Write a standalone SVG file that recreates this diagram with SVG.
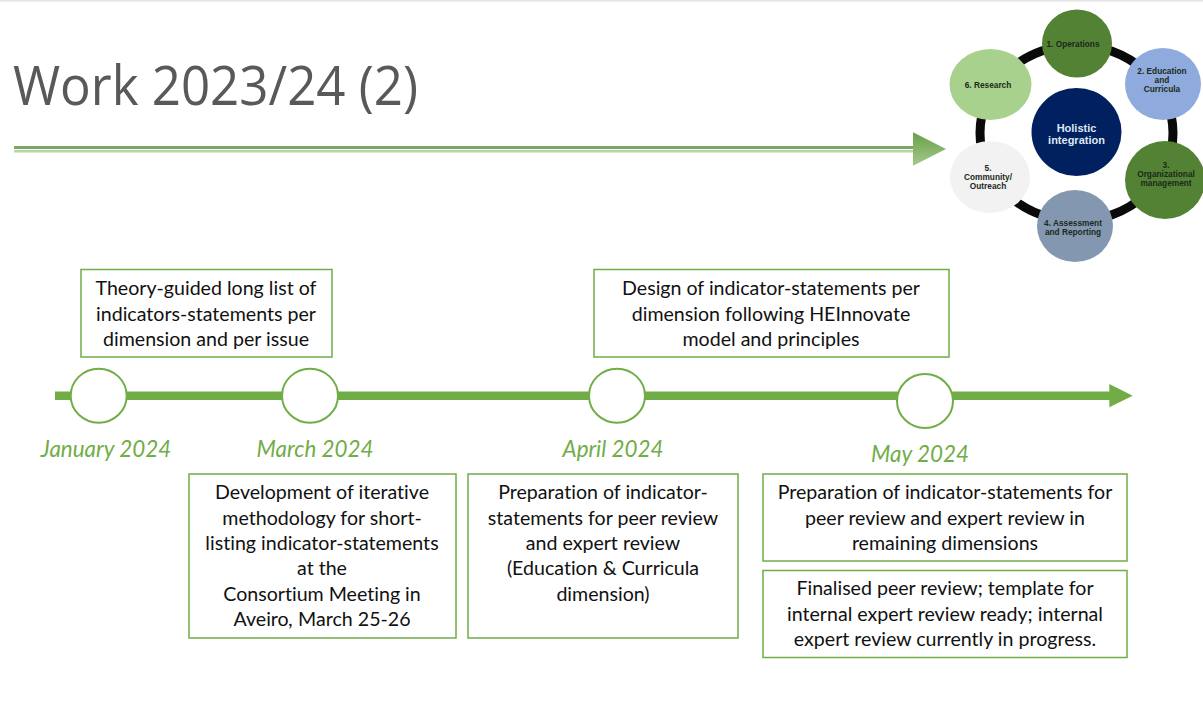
<svg xmlns="http://www.w3.org/2000/svg" width="1203" height="711" viewBox="0 0 1203 711">
<style>
text{font-family:"Lato","Open Sans","Liberation Sans",sans-serif;font-variant-ligatures:none}
.b{fill:#fff;stroke:#70ad47;stroke-width:1.5}
.t{font-size:19.6px;fill:#111;text-anchor:middle}
.m{font-size:22.4px;fill:#70ad47;font-style:italic;text-anchor:middle}
.c{fill:#fff;stroke:#70ad47;stroke-width:2}
.r{font-family:"Liberation Sans",sans-serif;font-weight:700;font-size:8.3px;fill:#1a2a1a;text-anchor:middle}
.h{font-family:"Liberation Sans",sans-serif;font-weight:700;font-size:11px;fill:#dfe6f2;text-anchor:middle}
</style>
<defs>
<linearGradient id="g" x1="0" y1="0" x2="0" y2="1"><stop offset="0" stop-color="#6a9f4a"/><stop offset="1" stop-color="#a3c98a"/></linearGradient>
</defs>
<rect width="1203" height="1.5" fill="#e4e4e4"/>
<text id="title" x="13" y="105" font-size="54px" fill="#595959" textLength="405" lengthAdjust="spacingAndGlyphs" style="font-family:'Open Sans','Noto Sans',sans-serif">Work 2023/24 (2)</text>
<g id="title-rule">
<rect x="14" y="146" width="899" height="3" fill="#79a862"/>
<rect x="14" y="150" width="899" height="2.500" fill="#b9d6a8"/>
<polygon points="913,132.300 946,149 913,165.700" fill="url(#g)"/>
</g>
<g id="wheel">
<ellipse cx="1076.500" cy="133" rx="96.500" ry="88" fill="none" stroke="#0a0a0a" stroke-width="9"/>
<g id="dim1"><ellipse cx="1077" cy="43.500" rx="35" ry="34" fill="#548235"/><text class="r" x="1073" y="46.500">1. Operations</text></g>
<g id="dim2"><ellipse cx="1163" cy="84" rx="38" ry="36" fill="#8faadc"/><text class="r" x="1162" y="74">2. Education</text><text class="r" x="1162" y="82.800">and</text><text class="r" x="1162" y="91.500">Curricula</text></g>
<g id="dim3"><ellipse cx="1165" cy="180" rx="40" ry="39" fill="#548235"/><text class="r" x="1166" y="168">3.</text><text class="r" x="1166" y="176.800">Organizational</text><text class="r" x="1166" y="185.500">management</text></g>
<g id="dim4"><ellipse cx="1075" cy="226" rx="38" ry="36" fill="#8497b0"/><text class="r" x="1073" y="226">4. Assessment</text><text class="r" x="1073" y="234.800">and Reporting</text></g>
<g id="dim5"><ellipse cx="990" cy="177" rx="40" ry="36" fill="#f2f2f2"/><text class="r" x="988" y="171">5.</text><text class="r" x="988" y="180">Community/</text><text class="r" x="988" y="189">Outreach</text></g>
<g id="dim6"><ellipse cx="990.500" cy="84.500" rx="41" ry="35.500" fill="#a9d18e"/><text class="r" x="988" y="87.500">6. Research</text></g>
<g id="center"><ellipse cx="1076.500" cy="132" rx="45" ry="44" fill="#002060"/><text class="h" x="1076.500" y="132">Holistic</text><text class="h" x="1076.500" y="143.500">integration</text></g>
</g>
<g id="connectors">
<rect x="55" y="391.500" width="1055" height="8.500" fill="#70ad47"/>
<polygon points="1109.300,384 1132.700,395.700 1109.300,407.300" fill="#70ad47"/>
</g>
<g id="jan"><ellipse class="c" cx="98.700" cy="395.700" rx="28" ry="27"/><text class="m" x="106" y="457">January 2024</text></g>
<g id="mar"><ellipse class="c" cx="310" cy="395.700" rx="28" ry="27"/><text class="m" x="315" y="457">March 2024</text></g>
<g id="apr"><ellipse class="c" cx="617" cy="395.700" rx="28" ry="27"/><text class="m" x="613" y="457">April 2024</text></g>
<g id="may"><ellipse class="c" cx="925" cy="401" rx="28" ry="27"/><text class="m" x="920" y="462">May 2024</text></g>
<g id="box1"><rect class="b" x="81" y="269.500" width="251" height="87.500"/><text class="t" x="206" y="295">Theory-guided long list of</text><text class="t" x="206" y="320.500">indicators-statements per</text><text class="t" x="206" y="346">dimension and per issue</text></g>
<g id="box2"><rect class="b" x="594" y="269.500" width="355" height="87.500"/><text class="t" x="771" y="295">Design of indicator-statements per</text><text class="t" x="771" y="320.500">dimension following HEInnovate</text><text class="t" x="771" y="346">model and principles</text></g>
<g id="box3"><rect class="b" x="189" y="474" width="267" height="164"/><text class="t" x="322" y="499">Development of iterative</text><text class="t" x="322" y="524.500">methodology for short-</text><text class="t" x="322" y="550">listing indicator-statements</text><text class="t" x="322" y="575">at the</text><text class="t" x="322" y="600.500">Consortium Meeting in</text><text class="t" x="322" y="626">Aveiro<tspan font-style="italic">,</tspan> March 25-26</text></g>
<g id="box4"><rect class="b" x="468" y="474" width="270" height="164"/><text class="t" x="603" y="499">Preparation of indicator-</text><text class="t" x="603" y="524.500">statements for peer review</text><text class="t" x="603" y="550">and expert review</text><text class="t" x="603" y="575">(Education &amp; Curricula</text><text class="t" x="603" y="600.500">dimension)</text></g>
<g id="box5"><rect class="b" x="763" y="474" width="364" height="87"/><text class="t" x="945" y="499">Preparation of indicator-statements for</text><text class="t" x="945" y="524.500">peer review and expert review in</text><text class="t" x="945" y="550">remaining dimensions</text></g>
<g id="box6"><rect class="b" x="763" y="570.500" width="364" height="87"/><text class="t" x="945" y="595">Finalised peer review; template for</text><text class="t" x="945" y="620.500">internal expert review ready; internal</text><text class="t" x="945" y="646">expert review currently in progress.</text></g>
</svg>
